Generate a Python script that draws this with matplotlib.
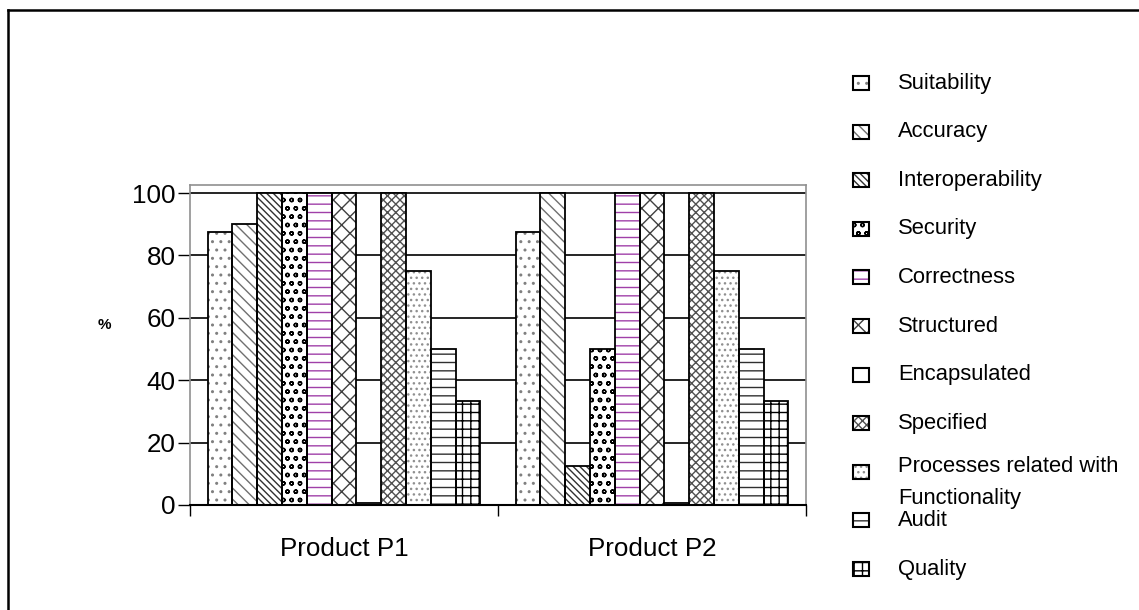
import numpy as np
import matplotlib
matplotlib.use("Agg")
import matplotlib.pyplot as plt
from matplotlib.patches import Rectangle
from matplotlib.lines import Line2D

plt.rcParams["font.family"] = ["Liberation Sans", "DejaVu Sans"]
plt.rcParams["hatch.linewidth"] = 1.0

# data
products = ["Product P1", "Product P2"]
criteria = ["Suitability", "Accuracy", "Interoperability", "Security",
            "Correctness", "Structured", "Encapsulated", "Specified",
            "Processes related with\nFunctionality", "Audit", "Quality"]
p1_values = [87.5, 90, 100, 100, 100, 100, 0.5, 100, 75, 50, 33.3]
p2_values = [87.5, 100, 12.5, 50, 100, 100, 0.5, 100, 75, 50, 33.3]
y_ticks = [0, 20, 40, 60, 80, 100]

# hatch pattern and hatch colour per criterion
hatches = ["..", "\\\\\\", "\\\\\\\\\\", "oo", "--", "xx", "", "xxxx",
           "...", "--", "++"]
hatch_colors = ["#808080", "#707070", "#303030", "black", "#a040a8",
                "#404040", "black", "#505050", "#909090", "#303030", "black"]

fig = plt.figure(figsize=(11.39, 6.10), dpi=100)
W, H = 1139, 610
ax = fig.add_axes([190 / W, 1 - 505 / H, 616 / W, 320 / H])

n = len(criteria)
width = 0.886 / n
x = np.arange(len(products))
values = np.array([p1_values, p2_values])

for i in range(n):
    pos = x + (i - (n - 1) / 2) * width
    # hatch layer
    ax.bar(pos, values[:, i], width, color="white", edgecolor=hatch_colors[i],
           hatch=hatches[i], linewidth=0, zorder=2)
    # outline layer
    ax.bar(pos, values[:, i], width, fill=False, edgecolor="black",
           linewidth=1.3, zorder=3)

ax.set_xlim(-0.5, 1.5)
ax.set_ylim(0, 102.6)

ax.set_yticks(y_ticks)
ax.tick_params(axis="y", direction="out", length=9, width=1, pad=1.5,
               labelsize=18.7, color="black")
for yv in y_ticks[1:]:
    ax.axhline(yv, color="black", linewidth=1.2, zorder=1)

ax.set_xticks([-0.5, 0.5, 1.5])
ax.set_xticklabels([])
ax.set_xticks(x, minor=True)
ax.set_xticklabels(products, minor=True)
ax.tick_params(axis="x", which="major", direction="out", length=8, width=1,
               color="black")
ax.tick_params(axis="x", which="minor", length=0, pad=23, labelsize=18.7)

for side in ["top", "right", "left"]:
    ax.spines[side].set_color("#909090")
    ax.spines[side].set_linewidth(1.2)
ax.spines["bottom"].set_color("black")
ax.spines["bottom"].set_linewidth(1.5)

fig.text(104 / W, 1 - 325 / H, "%", fontsize=11, fontweight="bold",
         ha="center", va="center")

# legend drawn by hand, one row every ~48.6 px
for i, label in enumerate(criteria):
    yc = 83 + i * 48.6
    fig.add_artist(Rectangle((853 / W, 1 - (yc + 7) / H), 16 / W, 14 / H,
                             transform=fig.transFigure, facecolor="white",
                             edgecolor=hatch_colors[i], hatch=hatches[i],
                             linewidth=0))
    fig.add_artist(Rectangle((853 / W, 1 - (yc + 7) / H), 16 / W, 14 / H,
                             transform=fig.transFigure, fill=False,
                             edgecolor="black", linewidth=1.5))
    if "\n" in label:
        first, second = label.split("\n")
        fig.text(898 / W, 1 - (yc - 5) / H, first, fontsize=15.8,
                 ha="left", va="center")
        fig.text(898 / W, 1 - (yc + 27) / H, second, fontsize=15.8,
                 ha="left", va="center")
    else:
        fig.text(898 / W, 1 - yc / H, label, fontsize=15.8,
                 ha="left", va="center")

# outer frame (only top and left edges are visible)
fig.add_artist(Line2D([8 / W, 1], [1 - 10 / H, 1 - 10 / H],
                      transform=fig.transFigure, color="black", linewidth=1.8))
fig.add_artist(Line2D([8 / W, 8 / W], [0, 1 - 10 / H],
                      transform=fig.transFigure, color="black", linewidth=1.8))

fig.savefig("out.png", dpi=100)
